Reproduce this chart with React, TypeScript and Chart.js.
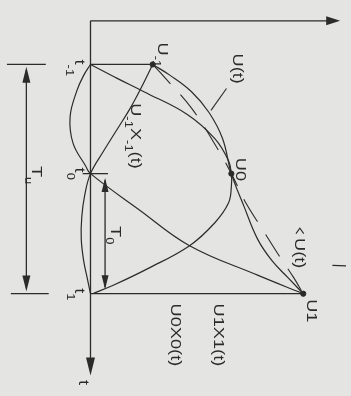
import React, { useEffect, useRef } from "react";
import { Chart, registerables } from "chart.js";

Chart.register(...registerables);

// sampling instants t-1, t0, t1 and samples U-1, U0, U1
const tNodes = [-1, 0, 1.1];
const uNodes = [0.64, 1.45, 2.19];

// U(t) – the signal
const tSignal = [-1, -0.9, -0.75, -0.56, -0.32, 0, 0.3, 0.6, 0.8, 0.95, 1.1];
const uSignal = [0.64, 0.82, 1.04, 1.22, 1.36, 1.45, 1.58, 1.72, 1.87, 2.03, 2.19];

// Û(t) – reconstruction (dashed)
const tApprox = [-1, -0.875, -0.6, -0.24, 0, 0.27, 0.51, 0.75, 0.95, 1.1];
const uApprox = [0.64, 0.77, 1.04, 1.3, 1.45, 1.6, 1.77, 1.94, 2.09, 2.19];

// U-1 X-1(t)
const tXm1 = [-1, -0.8, -0.6, -0.4, -0.2, 0, 0.2, 0.4, 0.6, 0.8, 0.95, 1.1];
const uXm1 = [0.64, 0.53, 0.41, 0.27, 0.13, 0, -0.06, -0.09, -0.095, -0.07, -0.035, 0];

// U0 X0(t)
const tX0 = [-1, -0.875, -0.75, -0.54, -0.32, -0.12, 0, 0.12, 0.27, 0.45, 0.66, 0.87, 1.02, 1.1];
const uX0 = [0, 0.27, 0.55, 1.0, 1.28, 1.42, 1.45, 1.45, 1.42, 1.28, 1.02, 0.59, 0.24, 0.02];

// U1 X1(t)
const tX1 = [-1, -0.9, -0.76, -0.52, -0.28, -0.07, 0, 0.33, 0.66, 0.93, 1.1];
const uX1 = [0, -0.07, -0.14, -0.21, -0.18, -0.05, 0, 0.5, 1.02, 1.72, 2.19];

const INK = "#2b2b2b";
const PAPER = "#e4e4e2";
const FONT = '"Liberation Sans", Arial, sans-serif';

const pts = (ts: number[], us: number[]) => ts.map((t, i) => ({ x: us[i], y: t }));

type Part = { text: string; sub?: boolean };
type Label = { parts: Part[]; u: number; t: number; drop?: number };

const labels: Label[] = [
  { parts: [{ text: "U" }, { text: "-1", sub: true }], u: 0.7, t: -1.2, drop: 5 },
  { parts: [{ text: "U(t)" }], u: 1.47, t: -1.1 },
  { parts: [{ text: "U0" }], u: 1.5, t: -0.145 },
  {
    parts: [{ text: "U" }, { text: "-1", sub: true }, { text: "X" }, { text: "-1", sub: true }, { text: "(t)" }],
    u: 0.42, t: -0.645, drop: 6,
  },
  { parts: [{ text: "U(t)" }], u: 2.11, t: 0.59 },
  { parts: [{ text: "U1" }], u: 2.23, t: 1.15 },
  { parts: [{ text: "U1X1(t)" }], u: 1.27, t: 1.19 },
  { parts: [{ text: "U0X0(t)" }], u: 0.83, t: 1.19 },
  { parts: [{ text: "t" }, { text: "-1", sub: true }], u: -0.16, t: -1.045, drop: 9 },
  { parts: [{ text: "t" }, { text: "0", sub: true }], u: -0.16, t: -0.055, drop: 8 },
  { parts: [{ text: "t" }, { text: "1", sub: true }], u: -0.16, t: 1.05, drop: 8 },
  { parts: [{ text: "t" }], u: -0.12, t: 1.89 },
  { parts: [{ text: "T" }, { text: "u", sub: true }], u: -0.6, t: -0.07, drop: 7 },
  { parts: [{ text: "T" }, { text: "0", sub: true }], u: 0.21, t: 0.48, drop: 5 },
];

const overlay = {
  id: "overlay",
  beforeDraw(chart: any) {
    const { ctx, width, height } = chart;
    ctx.save();
    ctx.fillStyle = PAPER;
    ctx.fillRect(0, 0, width, height);
    ctx.restore();
  },
  afterDatasetsDraw(chart: any) {
    const ctx = chart.ctx as CanvasRenderingContext2D;
    const X = (u: number) => chart.scales.x.getPixelForValue(u);
    const Y = (t: number) => chart.scales.y.getPixelForValue(t);
    ctx.save();
    ctx.strokeStyle = INK;
    ctx.fillStyle = INK;
    ctx.lineWidth = 1.3;

    const line = (u1: number, t1: number, u2: number, t2: number) => {
      ctx.beginPath();
      ctx.moveTo(X(u1), Y(t1));
      ctx.lineTo(X(u2), Y(t2));
      ctx.stroke();
    };
    const head = (u: number, t: number, dx: number, dy: number, len: number, w: number) => {
      const x = X(u), y = Y(t);
      const nx = -dy, ny = dx;
      ctx.beginPath();
      ctx.moveTo(x, y);
      ctx.lineTo(x - dx * len + nx * w / 2, y - dy * len + ny * w / 2);
      ctx.lineTo(x - dx * len - nx * w / 2, y - dy * len - ny * w / 2);
      ctx.closePath();
      ctx.fill();
    };

    const tTop = -1.4, uEnd = 2.57, tEnd = 1.85;
    line(0, tTop, uEnd - 0.05, tTop);
    head(uEnd, tTop, 1, 0, 14, 9);
    line(0, tTop, 0, tEnd - 0.05);
    head(0, tEnd, 0, 1, 18, 9);

    const uTu = -0.66;
    line(-0.86, tNodes[0], -0.46, tNodes[0]);
    line(-0.82, tNodes[2], -0.43, tNodes[2]);
    line(uTu, tNodes[0] + 0.05, uTu, tNodes[2] - 0.05);
    head(uTu, tNodes[0] + 0.02, 0, -1, 16, 8);
    head(uTu, tNodes[2] - 0.02, 0, 1, 16, 8);

    const uT0 = 0.15;
    line(-0.08, tNodes[1], 0.18, tNodes[1]);
    line(uT0, tNodes[1] + 0.06, uT0, tNodes[2] - 0.06);
    head(uT0, tNodes[1] + 0.04, 0, -1, 14, 7);
    head(uT0, tNodes[2] - 0.04, 0, 1, 14, 7);

    ctx.lineWidth = 1.1;
    line(1.4, -0.78, 1.24, -0.58);
    line(2.49, 0.84, 2.63, 0.845);

    // hat of Û(t): a small chevron above the rotated "U"
    ctx.beginPath();
    ctx.moveTo(X(2.115), Y(0.55));
    ctx.lineTo(X(2.155), Y(0.5));
    ctx.lineTo(X(2.195), Y(0.55));
    ctx.stroke();

    ctx.textBaseline = "alphabetic";
    ctx.textAlign = "left";
    const size = 14;
    const stretch = 1.3;
    for (const lb of labels) {
      ctx.save();
      ctx.translate(X(lb.u), Y(lb.t));
      ctx.rotate(Math.PI / 2);
      ctx.scale(stretch, 1);
      let x = 0;
      for (const p of lb.parts) {
        const fs = p.sub ? 10 : size;
        ctx.font = `${fs}px ${FONT}`;
        ctx.fillText(p.text, x, p.sub ? lb.drop || 5 : 0);
        x += ctx.measureText(p.text).width;
      }
      ctx.restore();
    }
    ctx.restore();
  },
};

export default function App() {
  const ref = useRef<HTMLCanvasElement>(null);
  useEffect(() => {
    if (!ref.current) return;
    const curve = (data: any[], extra: any = {}) => ({
      data,
      showLine: true,
      tension: 0.4,
      pointRadius: 0,
      borderColor: INK,
      borderWidth: 1.2,
      fill: false,
      clip: false,
      ...extra,
    });
    const chart = new Chart(ref.current, {
      type: "scatter",
      data: {
        datasets: [
          curve(pts(tSignal, uSignal), { label: "U(t)" }),
          curve(pts(tApprox, uApprox), { label: "Û(t)", borderDash: [26, 15], borderWidth: 1.1 }),
          curve(pts(tXm1, uXm1), { label: "U-1X-1(t)" }),
          curve(pts(tX0, uX0), { label: "U0X0(t)" }),
          curve(pts(tX1, uX1), { label: "U1X1(t)" }),
          curve(
            [
              { x: 0, y: tNodes[0] },
              { x: uNodes[0], y: tNodes[0] },
            ],
            { label: "t-1", tension: 0, borderWidth: 1.3 }
          ),
          curve(
            [
              { x: 0, y: tNodes[2] },
              { x: uNodes[2], y: tNodes[2] },
            ],
            { label: "t1", tension: 0, borderWidth: 1.3 }
          ),
          {
            label: "samples",
            data: pts(tNodes, uNodes),
            showLine: false,
            pointRadius: 2.6,
            pointBackgroundColor: INK,
            pointBorderColor: INK,
            clip: false,
          },
        ],
      },
      options: {
        animation: false,
        responsive: false,
        devicePixelRatio: 1,
        layout: { padding: 0 },
        plugins: { legend: { display: false }, tooltip: { enabled: false } },
        events: [],
        scales: {
          x: { type: "linear", display: false, min: -0.88, max: 2.63 },
          y: { type: "linear", display: false, min: -1.5446, max: 1.9911, reverse: true },
        },
      },
      plugins: [overlay],
    } as any);
    return () => chart.destroy();
  }, []);
  return (
    <div style={{ position: "fixed", left: 0, top: 0, width: 351, height: 396 }}>
      <canvas ref={ref} width={351} height={396} style={{ display: "block" }} />
    </div>
  );
}
